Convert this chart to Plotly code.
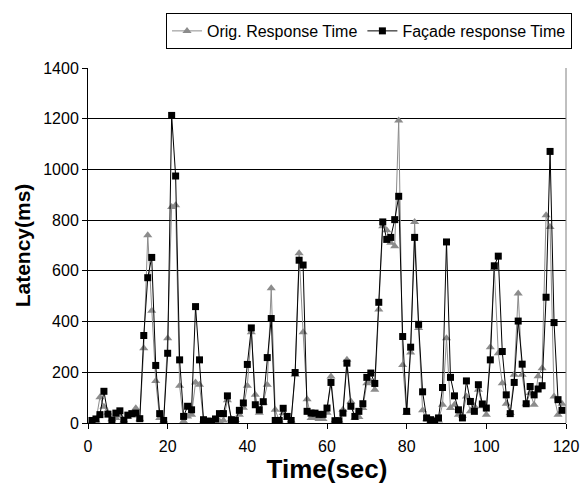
import plotly.graph_objects as go

time_sec = list(range(1, 120))

orig_ms = [5, 10, 102, 64, 40, 15, 20, 30, 10, 25, 30, 58, 15, 295, 740, 443, 166, 20, 10, 334,
           852, 859, 147, 7, 26, 33, 160, 151, 10, 7,
           5, 8, 7, 10, 90, 15, 12, 33, 60, 147, 358, 111, 40, 80, 151, 531, 52, 10, 39, 20,
           10, 190, 669, 358, 94, 20, 20, 16, 16, 40,
           183, 10, 10, 52, 249, 85, 20, 24, 59, 157, 164, 131, 448, 776, 760, 711, 697, 1193, 229, 39,
           278, 793, 375, 50, 15, 10, 10, 10, 72, 334,
           59, 72, 33, 29, 105, 46, 66, 131, 66, 33, 299, 610, 275, 157, 76, 39, 190, 511, 190, 76,
           118, 72, 184, 216, 819, 773, 105, 33, 76]

facade_ms = [10, 16, 33, 125, 35, 10, 39, 48, 10, 31, 37, 39, 17, 345, 573, 653, 227, 37, 10, 275,
             1213, 974, 249, 26, 66, 52, 459, 249, 13, 7,
             7, 16, 37, 37, 107, 13, 10, 50, 79, 231, 375, 72, 52, 84, 258, 412, 10, 10, 58, 26,
             10, 199, 642, 623, 46, 39, 39, 34, 34, 59,
             160, 9, 9, 39, 236, 66, 26, 46, 76, 180, 197, 156, 476, 793, 724, 732, 802, 894, 341, 46,
             299, 732, 389, 123, 20, 13, 7, 20, 140, 714,
             180, 107, 52, 20, 166, 85, 46, 151, 75, 59, 249, 620, 658, 282, 111, 37, 160, 402, 232, 76,
             144, 111, 134, 147, 496, 1071, 396, 92, 50]

x_ticks = [0, 20, 40, 60, 80, 100, 120]
x_tick_labels = ["0", "20", "40", "60", "80", "100", "120"]
y_ticks = [0, 200, 400, 600, 800, 1000, 1200, 1400]

FONT = "Liberation Sans, Arial, sans-serif"

fig = go.Figure()
fig.add_trace(go.Scatter(
    x=time_sec, y=orig_ms, name="Orig. Response Time", mode="lines+markers",
    line=dict(color="#8c8c8c", width=1),
    marker=dict(symbol="triangle-up", size=8, color="#8c8c8c"),
))
fig.add_trace(go.Scatter(
    x=time_sec, y=facade_ms, name="Façade response Time", mode="lines+markers",
    line=dict(color="#000000", width=1),
    marker=dict(symbol="square", size=7, color="#000000"),
))

fig.update_layout(
    width=581, height=484,
    margin=dict(l=88, r=15, t=68, b=61, autoexpand=False),
    paper_bgcolor="white", plot_bgcolor="white",
    font=dict(family=FONT, color="black", size=16),
    showlegend=True,
    legend=dict(
        orientation="h", x=1.0126, xanchor="right", y=1.155, yanchor="top",
        bordercolor="black", borderwidth=1, bgcolor="white",
        font=dict(family=FONT, size=16, color="black"),
        itemwidth=30, tracegroupgap=0,
    ),
    xaxis=dict(
        range=[0, 120], tickvals=x_ticks, ticktext=x_tick_labels,
        showgrid=False, zeroline=False, automargin=False,
        showline=True, linecolor="black", linewidth=1,
        ticks="outside", ticklen=5, tickcolor="black",
        ticklabelstandoff=4, ticklabeloverflow="allow",
        tickfont=dict(family=FONT, size=16),
        title=dict(text="<b>Time(sec)</b>", font=dict(family=FONT, size=26), standoff=3),
    ),
    yaxis=dict(
        range=[0, 1400], tickvals=y_ticks, ticktext=[str(v) for v in y_ticks],
        showgrid=True, gridcolor="#000000", gridwidth=1,
        zeroline=False, automargin=False,
        showline=True, linecolor="black", linewidth=1,
        ticks="outside", ticklen=5, tickcolor="black",
        tickfont=dict(family=FONT, size=16),
        title=dict(text="<b>Latency(ms)</b>", font=dict(family=FONT, size=21), standoff=6),
    ),
    shapes=[dict(type="line", xref="paper", yref="paper", x0=1, x1=1, y0=0, y1=1,
                 line=dict(color="#808080", width=1))],
)

fig.write_html("out.html")
